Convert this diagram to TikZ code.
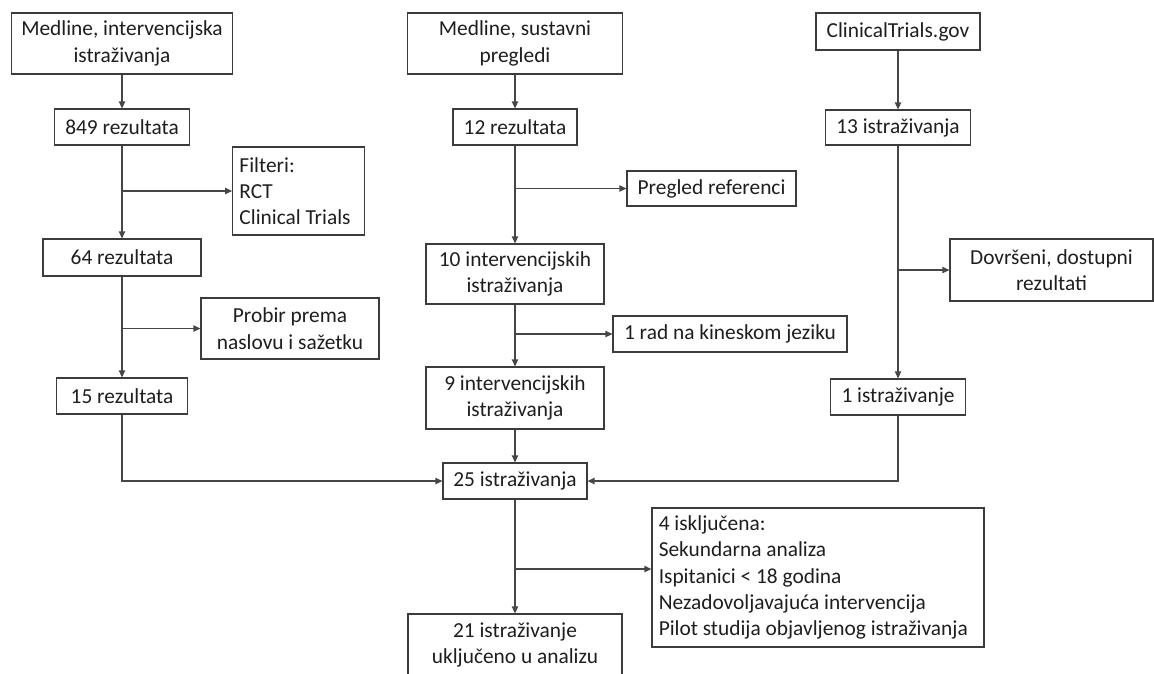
\documentclass[tikz,border=0pt]{standalone}
\usepackage{fontspec}
\setmainfont{Carlito}
\usepackage{tikz}
\usetikzlibrary{positioning, calc, arrows.meta}
\definecolor{fcBox}{RGB}{60,60,60}
\definecolor{fcLine}{RGB}{70,70,70}
\definecolor{fcText}{RGB}{30,30,30}
\newcommand{\flowfont}{\fontsize{15.2pt}{18.7pt}\selectfont}

\begin{document}
\begin{tikzpicture}[
  x=0.025cm, y=-0.025cm,
  box/.style={draw=fcBox, line width=0.8pt, inner sep=2pt, align=center, font=\flowfont, text=fcText},
  listbox/.style={box, align=flush left, inner xsep=0.17cm},
  flow/.style={draw=fcLine, line width=0.95pt, -{Triangle[length=5pt,width=4.5pt]}}
]
  \useasboundingbox (0,0) rectangle (1154,673);
  \clip (0,0) rectangle (1154,673);

  % Medline, intervencijska istrazivanja
  \node[box, minimum width=5.525cm, minimum height=1.525cm] (med1) at (122,43.5) {Medline, intervencijska\\istraživanja};
  \node[box, minimum width=3.375cm, minimum height=0.9cm] (r849) at (122,127) {849 rezultata};
  \node[listbox, text width=2.95cm, minimum height=2.2cm] (filt) at (298.5,191) {Filteri:\\RCT\\Clinical Trials};
  \node[box, minimum width=3.95cm, minimum height=0.925cm] (r64) at (122,257.5) {64 rezultata};
  \node[box, minimum width=4.45cm, minimum height=1.525cm] (probir) at (290,328.5) {Probir prema\\naslovu i sažetku};
  \node[box, minimum width=3.275cm, minimum height=0.9cm] (r15) at (122,396) {15 rezultata};

  % Medline, sustavni pregledi
  \node[box, minimum width=5.375cm, minimum height=1.525cm] (med2) at (515,43.5) {Medline, sustavni\\pregledi};
  \node[box, minimum width=3.1cm, minimum height=0.9cm] (r12) at (515,127) {12 rezultata};
  \node[box, minimum width=4.225cm, minimum height=0.875cm] (pregled) at (711.5,188.5) {Pregled referenci};
  \node[box, minimum width=4.45cm, minimum height=1.5cm] (i10) at (515,274) {10 intervencijskih\\istraživanja};
  \node[box, minimum width=5.85cm, minimum height=0.9cm] (rad1) at (730,334) {1 rad na kineskom jeziku};
  \node[box, minimum width=4.45cm, minimum height=1.55cm] (i9) at (515,398) {9 intervencijskih\\istraživanja};

  % ClinicalTrials.gov
  \node[box, minimum width=4.1cm, minimum height=0.925cm] (ct) at (898,31.5) {ClinicalTrials.gov};
  \node[box, minimum width=3.625cm, minimum height=0.875cm] (i13) at (898,127.5) {13 istraživanja};
  \node[box, minimum width=5.075cm, minimum height=1.55cm] (dovr) at (1051.5,270) {Dovršeni, dostupni\\rezultati};
  \node[box, minimum width=3.375cm, minimum height=0.9cm] (i1) at (898,397) {1 istraživanje};

  % ukupno
  \node[box, minimum width=3.6cm, minimum height=0.9cm] (i25) at (515,481) {25 istraživanja};
  \node[listbox, text width=7.96cm, minimum height=3.475cm] (excl) at (818,577.5) {4 isključena:\\Sekundarna analiza\\Ispitanici < 18 godina\\Nezadovoljavajuća intervencija\\Pilot studija objavljenog istraživanja};
  \node[box, minimum width=5.35cm, minimum height=1.55cm] (i21) at (515,645) {21 istraživanje\\uključeno u analizu};

  % veze
  \draw[flow] (med1) -- (r849);
  \draw[flow] (r849) -- (r64);
  \coordinate (f1) at (r849.south |- filt.west);
  \draw[flow] (f1) -- (filt.west);
  \draw[flow] (r64) -- (r15);
  \coordinate (f2) at (r64.south |- probir.west);
  \draw[flow] (f2) -- (probir.west);
  \draw[flow] (r15.south) |- (i25.west);

  \draw[flow] (med2) -- (r12);
  \draw[flow] (r12) -- (i10);
  \coordinate (f3) at (r12.south |- pregled.west);
  \draw[flow] (f3) -- (pregled.west);
  \draw[flow] (i10) -- (i9);
  \coordinate (f4) at (i10.south |- rad1.west);
  \draw[flow] (f4) -- (rad1.west);
  \draw[flow] (i9) -- (i25);

  \draw[flow] (ct) -- (i13);
  \draw[flow] (i13) -- (i1);
  \coordinate (f5) at (i13.south |- dovr.west);
  \draw[flow] (f5) -- (dovr.west);
  \draw[flow] (i1.south) |- (i25.east);

  \draw[flow] (i25) -- (i21);
  \coordinate (f6) at (515,569);
  \draw[flow] (f6) -- (f6 -| excl.west);
\end{tikzpicture}
\end{document}
